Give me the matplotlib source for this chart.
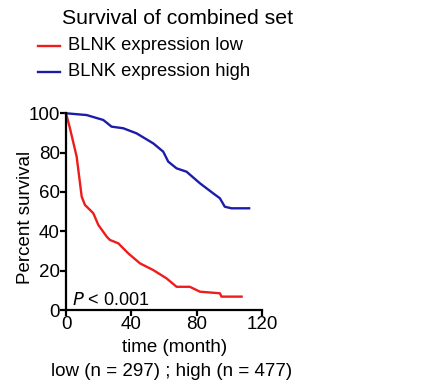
import matplotlib
matplotlib.use("Agg")
import matplotlib.pyplot as plt

plt.rcParams["font.family"] = ["Liberation Sans", "DejaVu Sans"]

# Kaplan-Meier curves (month, percent survival)
low_t = [0, 2.4, 6.5, 9.6, 11.6, 16.7, 19.8, 24.9, 26.9, 32, 38.1, 45.3,
         53.4, 61.5, 67.7, 75.8, 82, 94.2, 95.2, 107.5]
low_s = [100, 92.4, 78, 57.6, 53.4, 49.2, 43.2, 37.3, 35.6, 33.9, 28.8, 23.7,
         20.3, 16.1, 11.8, 11.8, 9.3, 8.5, 6.8, 6.8]
high_t = [0, 12.6, 22.8, 27.9, 35, 43.2, 53.4, 59.5, 62.6, 67.7, 73.8, 82,
          90.1, 94.2, 97.2, 101.3, 112.1]
high_s = [100, 99.1, 96.6, 93.2, 92.4, 89.8, 84.7, 80.5, 75.4, 72, 70.3, 64.4,
          59.3, 56.8, 52.5, 51.7, 51.7]

x_ticks = [0, 40, 80, 120]
y_ticks = [0, 20, 40, 60, 80, 100]

fig = plt.figure(figsize=(4.24, 3.84), dpi=100)
ax = fig.add_axes([0.1557, 0.1927, 0.4623, 0.5123])

ax.plot(low_t, low_s, color="#ee1c1c", lw=1.7, clip_on=False)
ax.plot(high_t, high_s, color="#1c1ca8", lw=1.7, clip_on=False)

ax.set_xlim(0, 120)
ax.set_ylim(0, 100)
ax.set_xticks(x_ticks)
ax.set_yticks(y_ticks)
ax.spines["top"].set_visible(False)
ax.spines["right"].set_visible(False)
for s in ("left", "bottom"):
    ax.spines[s].set_linewidth(1.6)
ax.tick_params(direction="out", width=1.6, length=4, labelsize=13.5, pad=0.5)
ax.set_ylabel("Percent survival", fontsize=13.5, va="center")
ax.yaxis.set_label_coords(-0.205, 0.47)

ax.text(3.5, 5, r"$\it{P}$ < 0.001", fontsize=13, va="center", ha="left")

# header and legend drawn as figure text
fig.text(178 / 424, 1 - 18 / 384, "Survival of combined set", fontsize=15.3,
         ha="center", va="center")
fig.lines.append(plt.Line2D([38 / 424, 60 / 424], [1 - 46 / 384] * 2,
                            color="#ee1c1c", lw=1.7, transform=fig.transFigure))
fig.lines.append(plt.Line2D([38 / 424, 60 / 424], [1 - 72 / 384] * 2,
                            color="#1c1ca8", lw=1.7, transform=fig.transFigure))
fig.text(68 / 424, 1 - 46 / 384, "BLNK expression low", fontsize=13.2,
         ha="left", va="center")
fig.text(68 / 424, 1 - 72 / 384, "BLNK expression high", fontsize=13.2,
         ha="left", va="center")

fig.text(175 / 424, 1 - 348 / 384, "time (month)", fontsize=13.5,
         ha="center", va="center")
fig.text(172 / 424, 1 - 372 / 384, "low (n = 297) ; high (n = 477)",
         fontsize=13.5, ha="center", va="center")

fig.savefig("out.png", dpi=100, facecolor="white")
